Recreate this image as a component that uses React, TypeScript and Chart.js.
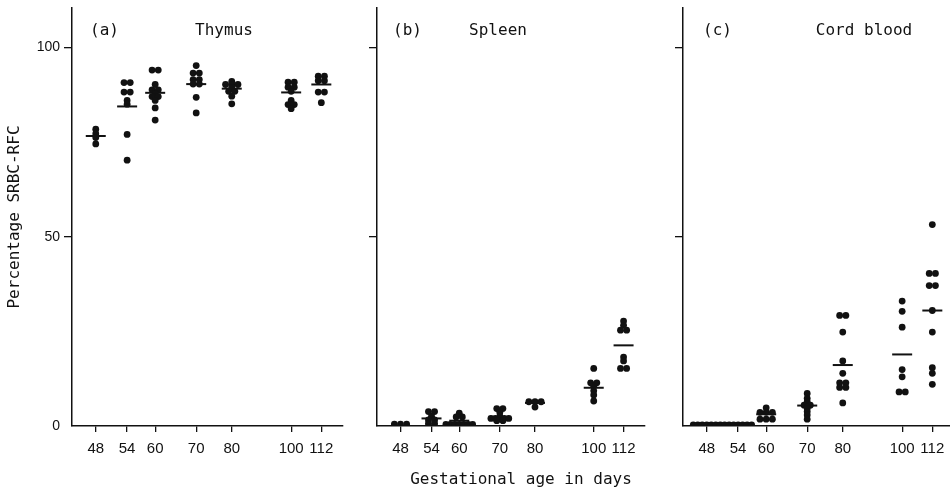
import React, { useEffect, useRef } from "react";
import { Chart, registerables } from "chart.js";

Chart.register(...registerables);

// ---------- data ----------
const days = [48, 54, 60, 70, 80, 100, 112];
const yTicks = [0, 50, 100];

const thymusValues: number[][] = [
  [78.4, 77.2, 76.2, 74.5],
  [90.7, 90.7, 88.2, 88.2, 86.0, 85.0, 77.0, 70.2],
  [94.0, 94.0, 90.2, 88.8, 88.8, 87.8, 87.0, 87.0, 86.0, 84.0, 80.8],
  [95.2, 93.2, 93.2, 91.5, 91.5, 90.3, 90.3, 86.8, 82.7],
  [91.0, 90.2, 90.2, 90.2, 89.4, 88.4, 88.4, 87.1, 85.1],
  [90.8, 90.8, 89.5, 89.5, 88.4, 86.0, 84.9, 84.9, 83.8],
  [92.4, 92.4, 91.2, 91.2, 88.2, 88.2, 85.4],
];
const thymusMeans: (number | null)[] = [76.6, 84.4, 88.0, 90.3, 89.1, 88.1, 90.2];

const spleenValues: number[][] = [
  [0.5, 0.5, 0.5],
  [3.8, 3.8, 2.6, 1.6, 1.6, 0.6, 0.6],
  [3.4, 2.4, 2.4, 0.4, 0.4, 0.4, 0.4, 0.4, 0.4, 0.4],
  [4.6, 4.6, 3.6, 2.6, 2.0, 2.0, 2.0, 2.0, 2.0, 1.4, 1.4],
  [6.4, 6.4, 6.4, 5.0],
  [15.2, 11.4, 11.4, 10.5, 9.3, 8.2, 6.6],
  [27.7, 26.6, 25.3, 25.3, 18.2, 17.2, 15.2, 15.2],
];
const spleenMeans: (number | null)[] = [null, 2.0, 1.4, 2.2, 6.1, 10.1, 21.3];

const cordValues: number[][] = [
  [0.3, 0.3, 0.3, 0.3, 0.3, 0.3, 0.3],
  [0.3, 0.3, 0.3, 0.3, 0.3, 0.3, 0.3],
  [4.8, 3.6, 3.6, 3.6, 1.8, 1.8, 1.8],
  [8.6, 7.3, 6.4, 5.8, 5.5, 5.5, 5.0, 4.6, 3.8, 2.9, 1.8],
  [29.2, 29.2, 24.8, 17.2, 13.9, 11.4, 11.4, 10.2, 10.2, 6.1],
  [33.0, 30.3, 26.1, 14.9, 13.0, 9.0, 9.0],
  [53.2, 40.3, 40.3, 37.1, 37.1, 30.5, 24.8, 15.4, 13.9, 11.0],
];
const cordMeans: (number | null)[] = [null, null, 3.1, 5.4, 16.1, 18.9, 30.5];

// ---------- styling ----------
const INK = "#111111";
const MONO = "'DejaVu Sans Mono', monospace";
const SANS = "'Liberation Sans', Arial, sans-serif";
const X_MIN = 43.9;
const X_MAX = 121.5;
const Y_MAX = 110.4;
const PX_PER_LN = 266; // approx. pixels per natural-log unit on the x axis (for dot spreading)

function swarm(values: number[][]) {
  const pts: { x: number; y: number }[] = [];
  values.forEach((vals, i) => {
    const groups = new Map<number, number>();
    vals.forEach((v) => groups.set(v, (groups.get(v) || 0) + 1));
    groups.forEach((n, v) => {
      const gap = n >= 5 ? 4.5 : 6.2;
      for (let k = 0; k < n; k++) {
        const off = (k - (n - 1) / 2) * gap;
        pts.push({ x: days[i] * Math.exp(off / PX_PER_LN), y: v });
      }
    });
  });
  return pts;
}

function meanPoints(means: (number | null)[]) {
  const pts: { x: number; y: number }[] = [];
  means.forEach((m, i) => {
    if (m !== null) pts.push({ x: days[i], y: m });
  });
  return pts;
}

const panelTextPlugin = {
  id: "panelText",
  afterDraw(chart: any, _args: any, opts: any) {
    const { ctx, chartArea } = chart;
    ctx.save();
    ctx.fillStyle = INK;
    ctx.textBaseline = "middle";
    for (const t of opts.items || []) {
      ctx.font = t.font;
      ctx.textAlign = t.align;
      ctx.fillText(t.text, chartArea.left + t.dx, t.y);
    }
    ctx.restore();
  },
};

type PanelCfg = {
  left: number;
  width: number;
  yWidth: number;
  padRight: number;
  values: number[][];
  means: (number | null)[];
  showYLabels: boolean;
  showYTitle: boolean;
  texts: { text: string; dx: number; y: number; align: string; font: string }[];
};

const TITLE_FONT = `16px ${MONO}`;

const panels: PanelCfg[] = [
  {
    left: 0,
    width: 350,
    yWidth: 72,
    padRight: 7,
    values: thymusValues,
    means: thymusMeans,
    showYLabels: true,
    showYTitle: true,
    texts: [
      { text: "(a)", dx: 18, y: 31, align: "left", font: TITLE_FONT },
      { text: "Thymus", dx: 152, y: 31, align: "center", font: TITLE_FONT },
    ],
  },
  {
    left: 350,
    width: 300,
    yWidth: 27,
    padRight: 5,
    values: spleenValues,
    means: spleenMeans,
    showYLabels: false,
    showYTitle: false,
    texts: [
      { text: "(b)", dx: 16, y: 31, align: "left", font: TITLE_FONT },
      { text: "Spleen", dx: 121, y: 31, align: "center", font: TITLE_FONT },
      { text: "Gestational age in days", dx: 144, y: 480, align: "center", font: TITLE_FONT },
    ],
  },
  {
    left: 655,
    width: 300,
    yWidth: 28,
    padRight: 1,
    values: cordValues,
    means: cordMeans,
    showYLabels: false,
    showYTitle: false,
    texts: [
      { text: "(c)", dx: 20, y: 31, align: "left", font: TITLE_FONT },
      { text: "Cord blood", dx: 181, y: 31, align: "center", font: TITLE_FONT },
    ],
  },
];

function Panel({ cfg }: { cfg: PanelCfg }) {
  const ref = useRef<HTMLCanvasElement>(null);
  useEffect(() => {
    const canvas = ref.current;
    if (!canvas) return;
    const chart = new Chart(canvas, {
      type: "scatter",
      data: {
        datasets: [
          {
            data: swarm(cfg.values),
            pointRadius: 3.4,
            pointHoverRadius: 3.4,
            pointStyle: "circle",
            backgroundColor: INK,
            borderColor: INK,
            borderWidth: 0,
          },
          {
            data: meanPoints(cfg.means),
            pointStyle: "line",
            pointRadius: 10,
            pointHoverRadius: 10,
            borderColor: INK,
            backgroundColor: INK,
            borderWidth: 2,
          },
        ],
      },
      options: {
        animation: false,
        responsive: false,
        events: [],
        layout: { autoPadding: false, padding: { left: 0, right: cfg.padRight, top: 8, bottom: 0 } },
        plugins: {
          legend: { display: false },
          tooltip: { enabled: false },
          // @ts-ignore
          panelText: { items: cfg.texts },
        },
        scales: {
          x: {
            type: "logarithmic",
            min: X_MIN,
            max: X_MAX,
            position: "bottom",
            afterBuildTicks: (s: any) => {
              s.ticks = days.map((v) => ({ value: v }));
            },
            afterFit: (s: any) => {
              s.height = 65;
              s.paddingLeft = 0;
              s.paddingRight = 0;
            },
            grid: {
              drawOnChartArea: false,
              drawTicks: true,
              tickLength: 6,
              color: INK,
              lineWidth: 1.3,
            },
            border: { display: true, color: INK, width: 1.5 },
            ticks: {
              autoSkip: false,
              maxRotation: 0,
              minRotation: 0,
              padding: 8,
              color: INK,
              font: { family: SANS, size: 15 },
              callback: (v: any) => String(v),
            },
          },
          y: {
            type: "linear",
            min: 0,
            max: Y_MAX,
            afterBuildTicks: (s: any) => {
              s.ticks = yTicks.map((v) => ({ value: v }));
            },
            afterFit: (s: any) => {
              s.width = cfg.yWidth;
              s.paddingTop = 0;
              s.paddingBottom = 0;
            },
            grid: {
              drawOnChartArea: false,
              drawTicks: true,
              tickLength: 8,
              color: (c: any) => (c.tick && c.tick.value === 0 ? "rgba(0,0,0,0)" : INK),
              lineWidth: 1.3,
            },
            border: { display: true, color: INK, width: 1.5 },
            ticks: {
              display: cfg.showYLabels,
              padding: 4,
              color: INK,
              font: { family: SANS, size: 14 },
              callback: (v: any) => String(v),
            },
            title: {
              display: cfg.showYTitle,
              text: "Percentage SRBC-RFC",
              color: INK,
              font: { family: MONO, size: 16 },
              padding: { top: 5, bottom: 0 },
            },
          },
        },
      },
      plugins: [panelTextPlugin],
    } as any);
    return () => chart.destroy();
  }, [cfg]);
  return (
    <canvas
      ref={ref}
      width={cfg.width}
      height={491}
      style={{ position: "absolute", left: cfg.left, top: 0, width: cfg.width, height: 491 }}
    />
  );
}

export default function App() {
  return (
    <div
      style={{
        position: "absolute",
        left: 0,
        top: 0,
        width: 950,
        height: 491,
        overflow: "hidden",
        background: "#fff",
      }}
    >
      {panels.map((p, i) => (
        <Panel key={i} cfg={p} />
      ))}
    </div>
  );
}
